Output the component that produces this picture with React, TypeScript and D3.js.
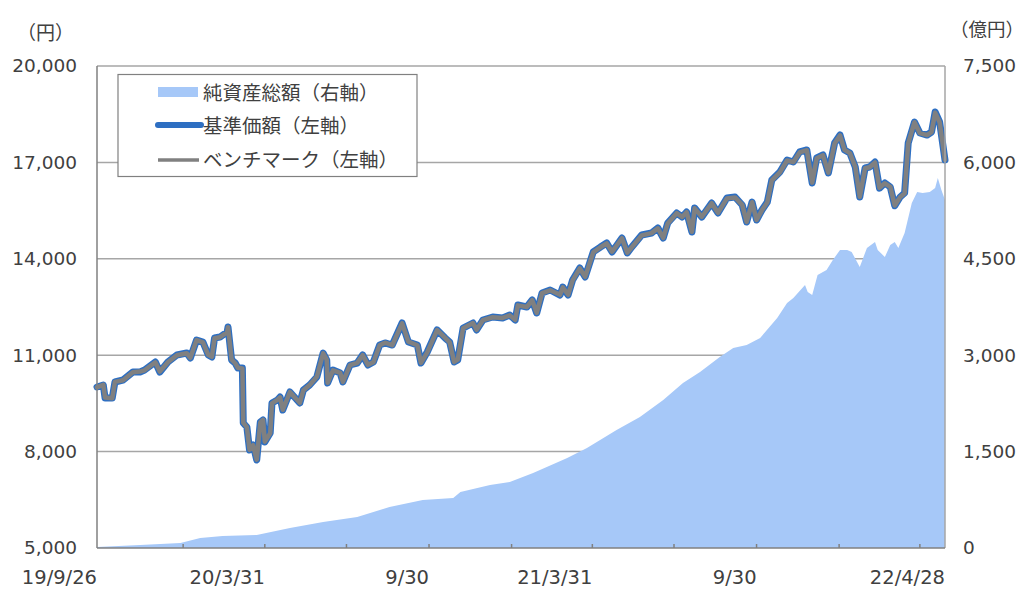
import React from "react";
import * as d3 from "d3";

const navDates = [
  "2019-09-26","2019-10-03","2019-10-05","2019-10-13","2019-10-16","2019-10-25","2019-11-05","2019-11-13","2019-11-18","2019-11-30",
  "2019-12-05","2019-12-14","2019-12-24","2020-01-04","2020-01-08","2020-01-15","2020-01-22","2020-01-28","2020-02-01","2020-02-04",
  "2020-02-10","2020-02-18","2020-02-19","2020-02-23","2020-02-27","2020-03-01","2020-03-06","2020-03-07","2020-03-11","2020-03-14",
  "2020-03-18","2020-03-22","2020-03-26","2020-03-29","2020-03-31","2020-04-06","2020-04-08","2020-04-14","2020-04-17","2020-04-20",
  "2020-04-28","2020-05-04","2020-05-09","2020-05-13","2020-05-20","2020-05-28","2020-06-04","2020-06-08","2020-06-09","2020-06-15",
  "2020-06-23","2020-06-26","2020-07-04","2020-07-12","2020-07-18","2020-07-24","2020-07-30","2020-08-06","2020-08-12","2020-08-20",
  "2020-08-31","2020-09-07","2020-09-17","2020-09-21","2020-09-28","2020-10-09","2020-10-18","2020-10-23","2020-10-28","2020-11-01",
  "2020-11-07","2020-11-18","2020-11-22","2020-11-29","2020-12-10","2020-12-21","2020-12-29","2021-01-04","2021-01-07","2021-01-17",
  "2021-01-23","2021-01-28","2021-02-03","2021-02-12","2021-02-23","2021-02-26","2021-03-04","2021-03-09","2021-03-17","2021-03-23",
  "2021-04-01","2021-04-09","2021-04-16","2021-04-22","2021-05-03","2021-05-09","2021-05-14","2021-05-25","2021-06-05","2021-06-12",
  "2021-06-18","2021-06-23","2021-07-03","2021-07-09","2021-07-14","2021-07-20","2021-07-23","2021-07-31","2021-08-11","2021-08-18",
  "2021-08-28","2021-09-06","2021-09-14","2021-09-19","2021-09-25","2021-09-30","2021-10-06","2021-10-12","2021-10-17","2021-10-26",
  "2021-11-03","2021-11-10","2021-11-17","2021-11-25","2021-12-01","2021-12-06","2021-12-13","2021-12-19","2021-12-26","2022-01-01",
  "2022-01-06","2022-01-12","2022-01-18","2022-01-23","2022-01-29","2022-02-03","2022-02-09","2022-02-14","2022-02-20","2022-02-26",
  "2022-03-03","2022-03-09","2022-03-14","2022-03-18","2022-03-25","2022-03-31","2022-04-08","2022-04-13","2022-04-17","2022-04-22",
  "2022-04-28"
];

const navValues = [
  10010,10073,9668,9668,10166,10228,10477,10477,10539,10788,
  10477,10788,11006,11068,10913,11473,11411,11006,10944,11535,
  11566,11722,11877,10851,10757,10602,10602,8890,8766,8050,
  8205,7739,8921,8983,8299,8579,9512,9606,9699,9295,
  9855,9668,9512,9917,10073,10322,11068,10851,10135,10539,
  10446,10166,10695,10757,11006,10695,10788,11317,11380,11317,
  12002,11411,11317,10757,11100,11784,11535,11411,10788,10851,
  11846,12002,11784,12095,12189,12158,12251,12095,12562,12500,
  12718,12313,12936,13029,12873,13122,12873,13340,13714,13434,
  14212,14367,14492,14212,14647,14180,14367,14741,14803,14958,
  14647,15114,15425,15301,15456,14834,15581,15301,15736,15425,
  15892,15923,15674,15145,15767,15207,15519,15767,16452,16701,
  17074,17012,17324,17386,16359,17137,17230,16670,17604,17852,
  17386,17292,16857,15923,16826,16857,17012,16200,16359,16234,
  15650,15923,16048,17604,18257,17915,17852,17946,18568,18257,
  17074
];

const benchValues = [
  10000,10080,9680,9660,10170,10220,10470,10490,10530,10780,
  10490,10780,11000,11060,10920,11470,11400,11010,10950,11530,
  11560,11710,11870,10860,10750,10610,10590,8900,8760,8060,
  8200,7750,8910,8990,8310,8570,9500,9610,9690,9300,
  9850,9670,9520,9910,10070,10330,11060,10860,10140,10530,
  10450,10170,10690,10760,11000,10700,10780,11310,11390,11310,
  11990,11420,11310,10760,11090,11780,11540,11400,10790,10860,
  11840,12000,11790,12090,12180,12160,12240,12100,12550,12500,
  12710,12320,12930,13020,12880,13110,12880,13330,13700,13440,
  14200,14360,14480,14220,14640,14190,14360,14730,14800,14950,
  14650,15100,15420,15300,15450,14840,15570,15310,15730,15430,
  15880,15910,15680,15150,15760,15210,15510,15760,16440,16690,
  17060,17010,17310,17380,16370,17130,17220,16680,17590,17840,
  17390,17290,16860,15930,16820,16850,17000,16210,16350,16240,
  15660,15920,16040,17590,18250,17910,17850,17940,18550,18250,
  17080
];

const assetDates = [
  "2019-09-26","2019-11-13","2019-12-28","2020-01-19","2020-02-13","2020-03-22","2020-04-28","2020-06-04","2020-07-12","2020-08-17",
  "2020-09-23","2020-10-27","2020-11-04","2020-12-07","2020-12-29","2021-01-24","2021-03-03","2021-03-25","2021-04-27","2021-05-23",
  "2021-06-18","2021-07-10","2021-07-29","2021-08-20","2021-09-04","2021-09-19","2021-10-04","2021-10-23","2021-11-03","2021-11-10",
  "2021-11-23","2021-11-26","2021-12-01","2021-12-07","2021-12-17","2021-12-24","2022-01-01","2022-01-09","2022-01-14","2022-01-23",
  "2022-01-31","2022-02-09","2022-02-12","2022-02-20","2022-02-26","2022-03-03","2022-03-07","2022-03-14","2022-03-22","2022-03-28",
  "2022-04-03","2022-04-11","2022-04-17","2022-04-20","2022-04-24","2022-04-28"
];

const assetValues = [
  15,47,78,156,187,202,311,405,482,638,
  747,778,871,980,1027,1167,1400,1556,1836,2038,
  2303,2567,2739,2972,3112,3159,3268,3579,3812,3890,
  4092,3983,3937,4248,4326,4481,4637,4637,4606,4372,
  4668,4761,4637,4528,4714,4761,4668,4901,5368,5539,
  5524,5539,5602,5757,5570,5415
];

const leftTicks = [5000, 8000, 11000, 14000, 17000, 20000];
const rightTicks = [0, 1500, 3000, 4500, 6000, 7500];
const xLabelDates = ["2019-09-26","2020-03-31","2020-09-30","2021-03-31","2021-09-30","2022-04-28"];
const xLabelTexts = ["19/9/26","20/3/31","9/30","21/3/31","9/30","22/4/28"];
const xTickDates = ["2019-12-31","2020-03-31","2020-06-30","2020-09-30","2020-12-31","2021-03-31","2021-06-30","2021-09-30","2021-12-31","2022-03-31"];

const legendLabels = ["純資産総額（右軸）","基準価額（左軸）","ベンチマーク（左軸）"];

const W = 1024, H = 599;
const M = { left: 97, right: 945, top: 66, bottom: 548 };
const FONT = "'DejaVu Sans', 'Noto Sans CJK JP', sans-serif";
const JFONT = "'Noto Sans CJK JP', 'DejaVu Sans', sans-serif";
const TXT = "#404040";
const GRID = "#a6a6a6";
const AREA = "#a6c8f8";
const BLUE = "#2e6fc2";
const GRAY = "#808080";

export default function App() {
  const parse = d3.utcParse("%Y-%m-%d");
  const x = d3.scaleUtc()
    .domain([parse("2019-09-26")!, parse("2022-04-28")!])
    .range([M.left, M.right]);
  const yL = d3.scaleLinear().domain([5000, 20000]).range([M.bottom, M.top]);
  const yR = d3.scaleLinear().domain([0, 7500]).range([M.bottom, M.top]);

  const nav = navDates.map((d, i) => ({ d: parse(d)!, v: navValues[i] }));
  const bench = navDates.map((d, i) => ({ d: parse(d)!, v: benchValues[i] }));
  const assets = assetDates.map((d, i) => ({ d: parse(d)!, v: assetValues[i] }));

  const line = d3.line<{ d: Date; v: number }>().x(p => x(p.d)).y(p => yL(p.v));
  const area = d3.area<{ d: Date; v: number }>().x(p => x(p.d)).y0(yR(0)).y1(p => yR(p.v));

  return (
    <svg width={W} height={H} style={{ position: "absolute", left: 0, top: 0, background: "#fff" }}>
      <rect x={0} y={0} width={W} height={H} fill="#fff" />
      {leftTicks.slice(1, -1).map(t => (
        <line key={t} x1={M.left} x2={M.right} y1={yL(t)} y2={yL(t)} stroke={GRID} strokeWidth={1.5} />
      ))}
      <path d={area(assets)!} fill={AREA} />
      <path d={line(nav)!} fill="none" stroke={BLUE} strokeWidth={7} strokeLinejoin="round" strokeLinecap="round" />
      <path d={line(bench)!} fill="none" stroke={GRAY} strokeWidth={4.5} strokeLinejoin="round" strokeLinecap="round" />
      <line x1={M.left} x2={M.right} y1={M.top} y2={M.top} stroke={GRID} strokeWidth={1.5} />
      <line x1={M.right} x2={M.right} y1={M.top} y2={M.bottom} stroke={GRID} strokeWidth={1.5} />
      <line x1={M.left} x2={M.left} y1={M.top} y2={M.bottom} stroke={GRAY} strokeWidth={1.5} />
      <line x1={M.left} x2={M.right} y1={M.bottom} y2={M.bottom} stroke={GRAY} strokeWidth={1.5} />
      {xTickDates.map(d => (
        <line key={d} x1={x(parse(d)!)} x2={x(parse(d)!)} y1={M.bottom} y2={M.bottom - 4} stroke={GRAY} strokeWidth={1.5} />
      ))}
      {leftTicks.map(t => (
        <text key={t} x={77} y={yL(t)} dy="0.35em" textAnchor="end" fontSize={18.5} fontFamily={FONT} fill={TXT}>
          {d3.format(",")(t)}
        </text>
      ))}
      {rightTicks.map(t => (
        <text key={t} x={963} y={yR(t)} dy="0.35em" textAnchor="start" fontSize={18.5} fontFamily={FONT} fill={TXT}>
          {d3.format(",")(t)}
        </text>
      ))}
      {xLabelDates.map((d, i) => (
        <text key={i} x={x(parse(d)!)} y={577} dy="0.35em" textAnchor="end" fontSize={19.5} fontFamily={FONT} fill={TXT}>
          {xLabelTexts[i]}
        </text>
      ))}
      <text x={17} y={33} dy="0.35em" fontSize={19} fontFamily={JFONT} fill={TXT}>（円）</text>
      <text x={950} y={30} dy="0.35em" fontSize={18.5} fontFamily={JFONT} fill={TXT}>（億円）</text>
      <rect x={118} y={74.5} width={299} height={102} fill="#fff" stroke={GRAY} strokeWidth={1.2} />
      <rect x={158} y={87} width={40} height={10} fill={AREA} />
      <line x1={158} x2={201} y1={125} y2={125} stroke={BLUE} strokeWidth={6} strokeLinecap="round" />
      <line x1={158} x2={199} y1={160} y2={160} stroke={GRAY} strokeWidth={3.5} />
      {legendLabels.map((l, i) => (
        <text key={i} x={203} y={[93, 126, 160][i]} dy="0.35em" fontSize={19.5} fontFamily={JFONT} fill={TXT}>{l}</text>
      ))}
    </svg>
  );
}
